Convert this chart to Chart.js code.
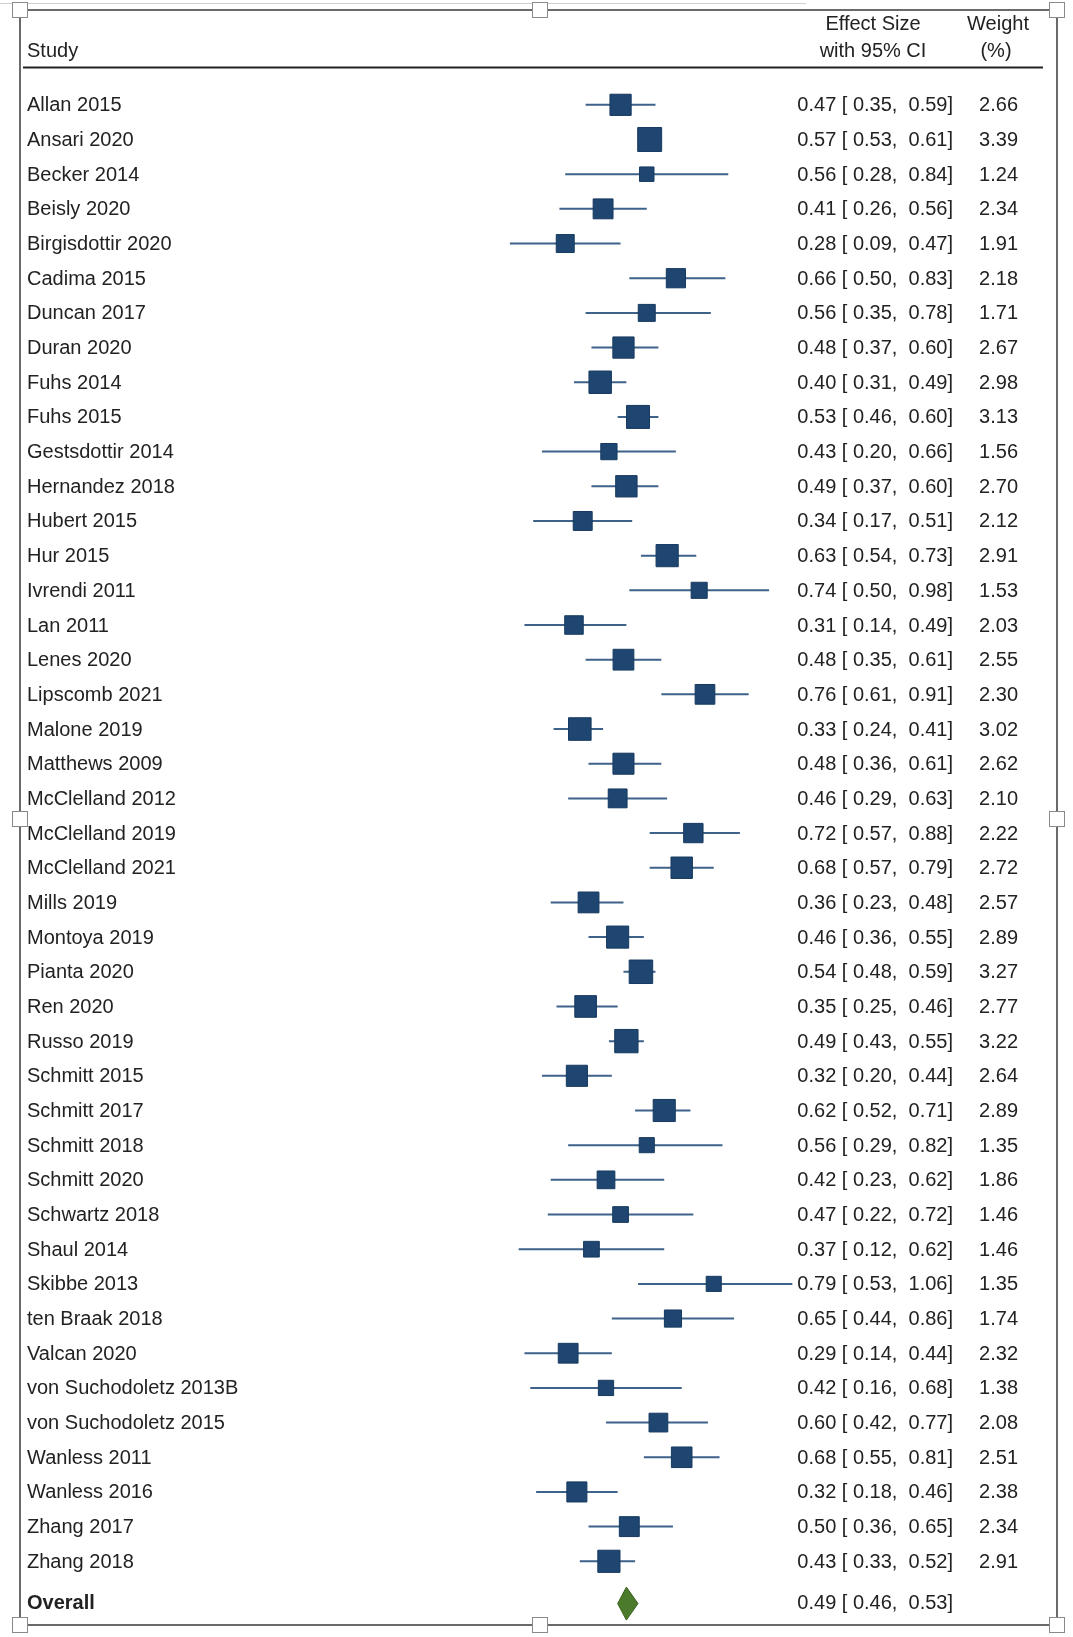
<!DOCTYPE html>
<html>
<head>
<meta charset="utf-8">
<script src="https://cdn.jsdelivr.net/npm/chart.js@4/dist/chart.umd.min.js"></script>
<style>
  html, body { margin: 0; padding: 0; background: #fff; }
  #wrap { width: 1073px; height: 1637px; position: relative; }
</style>
</head>
<body>
<div id="wrap"><canvas id="forest" width="1073" height="1637"></canvas></div>
<script>
// study rows, top to bottom
const studies = [
    "Allan 2015", "Ansari 2020", "Becker 2014", "Beisly 2020", "Birgisdottir 2020",
    "Cadima 2015", "Duncan 2017", "Duran 2020", "Fuhs 2014", "Fuhs 2015",
    "Gestsdottir 2014", "Hernandez 2018", "Hubert 2015", "Hur 2015", "Ivrendi 2011",
    "Lan 2011", "Lenes 2020", "Lipscomb 2021", "Malone 2019", "Matthews 2009",
    "McClelland 2012", "McClelland 2019", "McClelland 2021", "Mills 2019", "Montoya 2019",
    "Pianta 2020", "Ren 2020", "Russo 2019", "Schmitt 2015", "Schmitt 2017",
    "Schmitt 2018", "Schmitt 2020", "Schwartz 2018", "Shaul 2014", "Skibbe 2013",
    "ten Braak 2018", "Valcan 2020", "von Suchodoletz 2013B", "von Suchodoletz 2015", "Wanless 2011",
    "Wanless 2016", "Zhang 2017", "Zhang 2018"
];
const effect = [
    0.47, 0.57, 0.56, 0.41, 0.28, 0.66, 0.56, 0.48, 0.40, 0.53,
    0.43, 0.49, 0.34, 0.63, 0.74, 0.31, 0.48, 0.76, 0.33, 0.48,
    0.46, 0.72, 0.68, 0.36, 0.46, 0.54, 0.35, 0.49, 0.32, 0.62,
    0.56, 0.42, 0.47, 0.37, 0.79, 0.65, 0.29, 0.42, 0.60, 0.68,
    0.32, 0.50, 0.43
];
const ciLow = [
    0.35, 0.53, 0.28, 0.26, 0.09, 0.50, 0.35, 0.37, 0.31, 0.46,
    0.20, 0.37, 0.17, 0.54, 0.50, 0.14, 0.35, 0.61, 0.24, 0.36,
    0.29, 0.57, 0.57, 0.23, 0.36, 0.48, 0.25, 0.43, 0.20, 0.52,
    0.29, 0.23, 0.22, 0.12, 0.53, 0.44, 0.14, 0.16, 0.42, 0.55,
    0.18, 0.36, 0.33
];
const ciHigh = [
    0.59, 0.61, 0.84, 0.56, 0.47, 0.83, 0.78, 0.60, 0.49, 0.60,
    0.66, 0.60, 0.51, 0.73, 0.98, 0.49, 0.61, 0.91, 0.41, 0.61,
    0.63, 0.88, 0.79, 0.48, 0.55, 0.59, 0.46, 0.55, 0.44, 0.71,
    0.82, 0.62, 0.72, 0.62, 1.06, 0.86, 0.44, 0.68, 0.77, 0.81,
    0.46, 0.65, 0.52
];
const weight = [
    2.66, 3.39, 1.24, 2.34, 1.91, 2.18, 1.71, 2.67, 2.98, 3.13,
    1.56, 2.70, 2.12, 2.91, 1.53, 2.03, 2.55, 2.30, 3.02, 2.62,
    2.10, 2.22, 2.72, 2.57, 2.89, 3.27, 2.77, 3.22, 2.64, 2.89,
    1.35, 1.86, 1.46, 1.46, 1.35, 1.74, 2.32, 1.38, 2.08, 2.51,
    2.38, 2.34, 2.91
];
const overall = [0.49, 0.46, 0.53];
const overallRow = studies.length + 0.22;

const textColor = "#222";
const fontMain = "20px 'Liberation Sans', Arial, sans-serif";
const fontBold = "bold 20px 'Liberation Sans', Arial, sans-serif";

function ciText(es, lo, hi) {
    return es.toFixed(2) + " [ " + lo.toFixed(2) + ",  " + hi.toFixed(2) + "]";
}

// squares sized by weight (area ~ weight)
const squares = studies.map((s, i) => ({ x: effect[i], y: i }));
const squareRadius = weight.map(w => 13 * Math.sqrt(w) / Math.SQRT2);

// CI segments as one line with gaps
const ciSegments = [];
studies.forEach((s, i) => {
    ciSegments.push({ x: ciLow[i], y: i });
    ciSegments.push({ x: ciHigh[i], y: i });
    ciSegments.push({ x: null, y: null });
});

const handle = (ctx, x, y) => {
    ctx.fillStyle = "#fff";
    ctx.strokeStyle = "#8a8a8a";
    ctx.lineWidth = 1;
    ctx.fillRect(x - 7.5, y - 7.5, 15, 15);
    ctx.strokeRect(x - 7.5, y - 7.5, 15, 15);
};

const forestDecor = {
    id: "forestDecor",
    afterDraw(chart) {
        const ctx = chart.ctx;
        const xs = chart.scales.x;
        const ys = chart.scales.y;
        ctx.save();

        // overall diamond
        const dy = ys.getPixelForValue(overallRow);
        ctx.beginPath();
        ctx.moveTo(xs.getPixelForValue(overall[1]), dy);
        ctx.lineTo(xs.getPixelForValue(overall[0]), dy - 16.5);
        ctx.lineTo(xs.getPixelForValue(overall[2]), dy);
        ctx.lineTo(xs.getPixelForValue(overall[0]), dy + 16.5);
        ctx.closePath();
        ctx.fillStyle = "#4b7a2b";
        ctx.strokeStyle = "#3b6220";
        ctx.lineWidth = 1;
        ctx.fill();
        ctx.stroke();

        // headers
        ctx.fillStyle = textColor;
        ctx.font = fontMain;
        ctx.textBaseline = "middle";
        ctx.textAlign = "left";
        ctx.fillText("Study", 27, 51);
        ctx.textAlign = "center";
        ctx.fillText("Effect Size", 873, 24);
        ctx.fillText("with 95% CI", 873, 51);
        ctx.fillText("Weight", 998, 24);
        ctx.fillText("(%)", 996, 51);

        ctx.strokeStyle = "#222";
        ctx.lineWidth = 2;
        ctx.beginPath();
        ctx.moveTo(23, 67.5);
        ctx.lineTo(1043, 67.5);
        ctx.stroke();

        // rows
        studies.forEach((s, i) => {
            const y = ys.getPixelForValue(i) + 1;
            ctx.textAlign = "left";
            ctx.fillText(s, 27, y);
            ctx.textAlign = "right";
            ctx.fillText(ciText(effect[i], ciLow[i], ciHigh[i]), 953, y);
            ctx.fillText(weight[i].toFixed(2), 1018, y);
        });
        ctx.font = fontBold;
        ctx.textAlign = "left";
        ctx.fillText("Overall", 27, dy);
        ctx.font = fontMain;
        ctx.textAlign = "right";
        ctx.fillText(ciText(overall[0], overall[1], overall[2]), 953, dy);

        // picture frame with handles
        ctx.strokeStyle = "#d0d0d0";
        ctx.lineWidth = 1;
        ctx.beginPath();
        ctx.moveTo(0, 3.5);
        ctx.lineTo(806, 3.5);
        ctx.stroke();
        ctx.strokeStyle = "#6a6a6a";
        ctx.lineWidth = 2;
        ctx.strokeRect(20, 10, 1037, 1615);
        [[20, 10], [540, 10], [1057, 10], [20, 819], [1057, 819],
         [20, 1625], [540, 1625], [1057, 1625]].forEach(p => handle(ctx, p[0], p[1]));

        ctx.restore();
    }
};

new Chart(document.getElementById("forest"), {
    type: "scatter",
    data: {
        datasets: [{
            label: "Effect size",
            data: squares,
            pointStyle: "rect",
            pointRadius: squareRadius,
            pointHoverRadius: squareRadius,
            backgroundColor: "#1f4571",
            borderColor: "#163a60",
            borderWidth: 1
        }, {
            type: "line",
            label: "95% CI",
            data: ciSegments,
            borderColor: "#3e628a",
            borderWidth: 2,
            pointRadius: 0,
            spanGaps: false,
            fill: false
        }]
    },
    options: {
        responsive: false,
        animation: false,
        events: [],
        layout: { padding: { left: 20, right: 16, top: 9, bottom: 12 } },
        plugins: {
            legend: { display: false },
            tooltip: { enabled: false }
        },
        scales: {
            x: { type: "linear", display: false, min: -1.5927, max: 1.9624 },
            y: { type: "linear", display: false, reverse: true, min: -2.506, max: 43.666 }
        }
    },
    plugins: [forestDecor]
});
</script>
</body>
</html>
